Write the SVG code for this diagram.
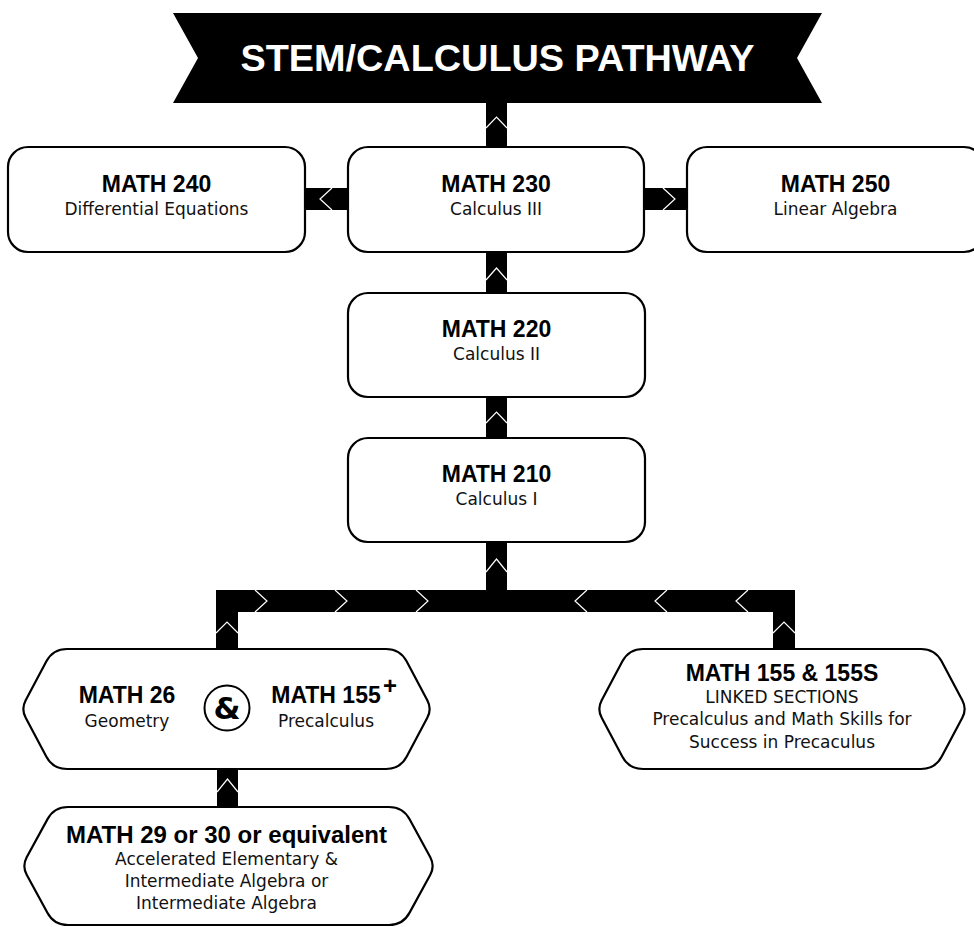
<svg xmlns="http://www.w3.org/2000/svg" width="974" height="927" viewBox="0 0 974 927">
<style>
.box{fill:#fff;stroke:#000;stroke-width:2.2}
.bar{fill:#000}
.chev{fill:none;stroke:#fff;stroke-width:1.2}
.t{font-family:"Liberation Sans",Arial,sans-serif;font-weight:bold;font-size:23px;fill:#000;text-anchor:middle}
.s{font-family:"DejaVu Sans","Liberation Sans",sans-serif;font-size:17px;fill:#111;text-anchor:middle}
</style>
<rect width="974" height="927" fill="#fff"/>
<g id="connectors">
  <rect class="bar" x="486" y="100" width="21" height="48"/>
  <polyline class="chev" points="486,128 496.5,117 507,128"/>
  <rect class="bar" x="304" y="188" width="45" height="22"/>
  <polyline class="chev" points="332,188 320,199 332,210"/>
  <rect class="bar" x="643" y="188" width="45" height="22"/>
  <polyline class="chev" points="663,188 675,199 663,210"/>
  <rect class="bar" x="486" y="251" width="21" height="43"/>
  <polyline class="chev" points="486,280 496.5,268 507,280"/>
  <rect class="bar" x="486" y="396" width="21" height="43"/>
  <polyline class="chev" points="486,423 496.5,412 507,423"/>
  <rect class="bar" x="486" y="541" width="21" height="50"/>
  <polyline class="chev" points="486,572 496.5,559 507,572"/>
  <rect class="bar" x="216" y="590" width="579" height="22"/>
  <rect class="bar" x="216" y="590" width="22" height="60"/>
  <rect class="bar" x="773" y="590" width="22" height="60"/>
  <polyline class="chev" points="216,633 227,622 238,633"/>
  <polyline class="chev" points="773,633 784,622 795,633"/>
  <polyline class="chev" points="255,590 267,601 255,612"/>
  <polyline class="chev" points="335,590 347,601 335,612"/>
  <polyline class="chev" points="416,590 428,601 416,612"/>
  <polyline class="chev" points="587,590 575,601 587,612"/>
  <polyline class="chev" points="667,590 655,601 667,612"/>
  <polyline class="chev" points="748,590 736,601 748,612"/>
  <rect class="bar" x="217" y="768" width="21" height="40"/>
  <polyline class="chev" points="217,792 227.5,779 238,792"/>
</g>
<g id="banner">
  <polygon points="173,13 822,13 797,58 822,103 173,103 198,58" fill="#000"/>
  <text x="497.5" y="71" font-family="Liberation Sans,Arial,sans-serif" font-weight="bold" font-size="36" fill="#fff" text-anchor="middle" textLength="514" lengthAdjust="spacingAndGlyphs">STEM/CALCULUS PATHWAY</text>
</g>
<g id="math240">
  <rect class="box" x="8" y="147" width="297" height="105" rx="20"/>
  <text class="t" x="156.5" y="192">MATH 240</text>
  <text class="s" x="156.5" y="215">Differential Equations</text>
</g>
<g id="math230">
  <rect class="box" x="348" y="147" width="296" height="105" rx="20"/>
  <text class="t" x="496" y="192">MATH 230</text>
  <text class="s" x="496" y="215">Calculus III</text>
</g>
<g id="math250">
  <rect class="box" x="687" y="147" width="297" height="105" rx="20"/>
  <text class="t" x="835.5" y="192">MATH 250</text>
  <text class="s" x="835.5" y="215">Linear Algebra</text>
</g>
<g id="math220">
  <rect class="box" x="348" y="293" width="297" height="104" rx="20"/>
  <text class="t" x="496.5" y="337">MATH 220</text>
  <text class="s" x="496.5" y="360">Calculus II</text>
</g>
<g id="math210">
  <rect class="box" x="348" y="438" width="297" height="104" rx="20"/>
  <text class="t" x="496.5" y="482">MATH 210</text>
  <text class="s" x="496.5" y="505">Calculus I</text>
</g>
<g id="math26-155">
  <path class="box" d="M 67 649 L 386 649 Q 400 649 406.6 661.35 L 427.3 700.2 Q 432 709 427.3 717.8 L 406.6 756.65 Q 400 769 386 769 L 67 769 Q 53 769 46.4 756.65 L 25.7 717.8 Q 21 709 25.7 700.2 L 46.4 661.35 Q 53 649 67 649 Z"/>
  <text class="t" x="127" y="703">MATH 26</text>
  <text class="s" x="127" y="727">Geometry</text>
  <circle cx="227" cy="708" r="22.5" fill="#fff" stroke="#000" stroke-width="2"/>
  <text class="t" x="227" y="719" style="font-size:31px;font-family:'DejaVu Sans',sans-serif">&amp;</text>
  <text class="t" x="326" y="703">MATH 155</text>
  <text class="t" x="390" y="694" style="font-size:24px">+</text>
  <text class="s" x="326" y="727">Precalculus</text>
</g>
<g id="math155-155s">
  <path class="box" d="M 643 649 L 921 649 Q 935 649 941.6 661.35 L 962.3 700.2 Q 967 709 962.3 717.8 L 941.6 756.65 Q 935 769 921 769 L 643 769 Q 629 769 622.4 756.65 L 601.7 717.8 Q 597 709 601.7 700.2 L 622.4 661.35 Q 629 649 643 649 Z"/>
  <text class="t" x="782" y="681">MATH 155 &amp; 155S</text>
  <text class="s" x="782" y="703">LINKED SECTIONS</text>
  <text class="s" x="782" y="725">Precalculus and Math Skills for</text>
  <text class="s" x="782" y="748">Success in Precaculus</text>
</g>
<g id="math29-30">
  <path class="box" d="M 68 807 L 389 807 Q 403 807 409.6 819.35 L 430.3 857.2 Q 435 866 430.3 874.8 L 409.6 912.65 Q 403 925 389 925 L 68 925 Q 54 925 47.4 912.65 L 26.7 874.8 Q 22 866 26.7 857.2 L 47.4 819.35 Q 54 807 68 807 Z"/>
  <text class="t" x="226.5" y="843" style="font-size:24px">MATH 29 or 30 or equivalent</text>
  <text class="s" x="226.5" y="865">Accelerated Elementary &amp;</text>
  <text class="s" x="226.5" y="887">Intermediate Algebra or</text>
  <text class="s" x="226.5" y="909">Intermediate Algebra</text>
</g>
</svg>
